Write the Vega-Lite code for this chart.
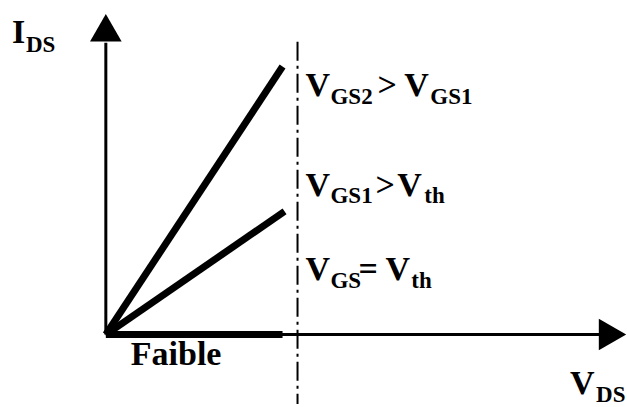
{
  "$schema": "https://vega.github.io/schema/vega-lite/v6.json",
  "width": 627,
  "height": 407,
  "autosize": {"type": "fit", "contains": "padding"},
  "padding": 0,
  "background": "white",
  "config": {"view": {"stroke": null}},
  "datasets": {
    "axes": [
      {"name": "I_DS axis", "x": 0, "y": 0, "x2": 0, "y2": 294},
      {"name": "V_DS axis", "x": 0, "y": 0, "x2": 496, "y2": 0}
    ],
    "curves": [
      {"name": "Faible", "x": 0, "y": 0, "x2": 177, "y2": 0},
      {"name": "VGS1", "x": 0, "y": 0, "x2": 179, "y2": 124},
      {"name": "VGS2", "x": 0, "y": 0, "x2": 177, "y2": 270}
    ],
    "limit": [
      {"name": "saturation", "x": 192, "y": 295, "x2": 192, "y2": -70}
    ],
    "arrows": [
      {"dir": "up", "x": 0, "y": 309},
      {"dir": "right", "x": 507.5, "y": 0}
    ],
    "texts": [
      {"role": "main", "x": -94, "y": 294, "t": "I"},
      {"role": "sub", "x": -80, "y": 285, "t": "DS"},
      {"role": "main", "x": 465, "y": -60, "t": "V"},
      {"role": "sub", "x": 491, "y": -68, "t": "DS"},
      {"role": "main", "x": 25, "y": -31, "t": "Faible"},
      {"role": "main", "x": 200, "y": 240, "t": "V"},
      {"role": "sub", "x": 225, "y": 232, "t": "GS2"},
      {"role": "main", "x": 272, "y": 240, "t": ">"},
      {"role": "main", "x": 299, "y": 240, "t": "V"},
      {"role": "sub", "x": 325, "y": 232, "t": "GS1"},
      {"role": "main", "x": 200, "y": 140, "t": "V"},
      {"role": "sub", "x": 225, "y": 132, "t": "GS1"},
      {"role": "main", "x": 270, "y": 140, "t": ">"},
      {"role": "main", "x": 292, "y": 140, "t": "V"},
      {"role": "sub", "x": 319, "y": 132, "t": "th"},
      {"role": "main", "x": 200, "y": 55, "t": "V"},
      {"role": "sub", "x": 225, "y": 47, "t": "GS"},
      {"role": "main", "x": 253, "y": 55, "t": "="},
      {"role": "main", "x": 280, "y": 55, "t": "V"},
      {"role": "sub", "x": 306, "y": 47, "t": "th"}
    ]
  },
  "layer": [
    {
      "data": {"name": "limit"},
      "mark": {"type": "rule", "color": "black", "strokeWidth": 2, "strokeDash": [19, 5, 3, 5]},
      "encoding": {
        "x": {"field": "x", "type": "quantitative", "scale": {"domain": [-106, 521], "nice": false, "zero": false}, "axis": null},
        "y": {"field": "y", "type": "quantitative", "scale": {"domain": [-70, 337], "nice": false, "zero": false}, "axis": null},
        "x2": {"field": "x2"},
        "y2": {"field": "y2"}
      }
    },
    {
      "data": {"name": "axes"},
      "mark": {"type": "rule", "color": "black", "strokeWidth": 3},
      "encoding": {
        "x": {"field": "x", "type": "quantitative", "scale": {"domain": [-106, 521], "nice": false, "zero": false}, "axis": null},
        "y": {"field": "y", "type": "quantitative", "scale": {"domain": [-70, 337], "nice": false, "zero": false}, "axis": null},
        "x2": {"field": "x2"},
        "y2": {"field": "y2"}
      }
    },
    {
      "data": {"name": "curves"},
      "mark": {"type": "rule", "color": "black", "strokeWidth": 7},
      "encoding": {
        "x": {"field": "x", "type": "quantitative", "scale": {"domain": [-106, 521], "nice": false, "zero": false}, "axis": null},
        "y": {"field": "y", "type": "quantitative", "scale": {"domain": [-70, 337], "nice": false, "zero": false}, "axis": null},
        "x2": {"field": "x2"},
        "y2": {"field": "y2"}
      }
    },
    {
      "data": {"name": "arrows"},
      "mark": {"type": "point", "filled": true, "color": "black", "opacity": 1, "size": 1000},
      "encoding": {
        "x": {"field": "x", "type": "quantitative", "scale": {"domain": [-106, 521], "nice": false, "zero": false}, "axis": null},
        "y": {"field": "y", "type": "quantitative", "scale": {"domain": [-70, 337], "nice": false, "zero": false}, "axis": null},
        "shape": {"field": "dir", "type": "nominal", "scale": {"domain": ["up", "right"], "range": ["triangle-up", "triangle-right"]}, "legend": null}
      }
    },
    {
      "data": {"name": "texts"},
      "transform": [{"filter": "datum.role === 'main'"}],
      "mark": {"type": "text", "font": "'Liberation Serif', 'Times New Roman', 'DejaVu Serif', serif", "fontWeight": "bold", "fontSize": 34, "align": "left", "baseline": "alphabetic", "color": "black"},
      "encoding": {
        "x": {"field": "x", "type": "quantitative", "scale": {"domain": [-106, 521], "nice": false, "zero": false}, "axis": null},
        "y": {"field": "y", "type": "quantitative", "scale": {"domain": [-70, 337], "nice": false, "zero": false}, "axis": null},
        "text": {"field": "t"}
      }
    },
    {
      "data": {"name": "texts"},
      "transform": [{"filter": "datum.role === 'sub'"}],
      "mark": {"type": "text", "font": "'Liberation Serif', 'Times New Roman', 'DejaVu Serif', serif", "fontWeight": "bold", "fontSize": 23, "align": "left", "baseline": "alphabetic", "color": "black"},
      "encoding": {
        "x": {"field": "x", "type": "quantitative", "scale": {"domain": [-106, 521], "nice": false, "zero": false}, "axis": null},
        "y": {"field": "y", "type": "quantitative", "scale": {"domain": [-70, 337], "nice": false, "zero": false}, "axis": null},
        "text": {"field": "t"}
      }
    }
  ]
}
